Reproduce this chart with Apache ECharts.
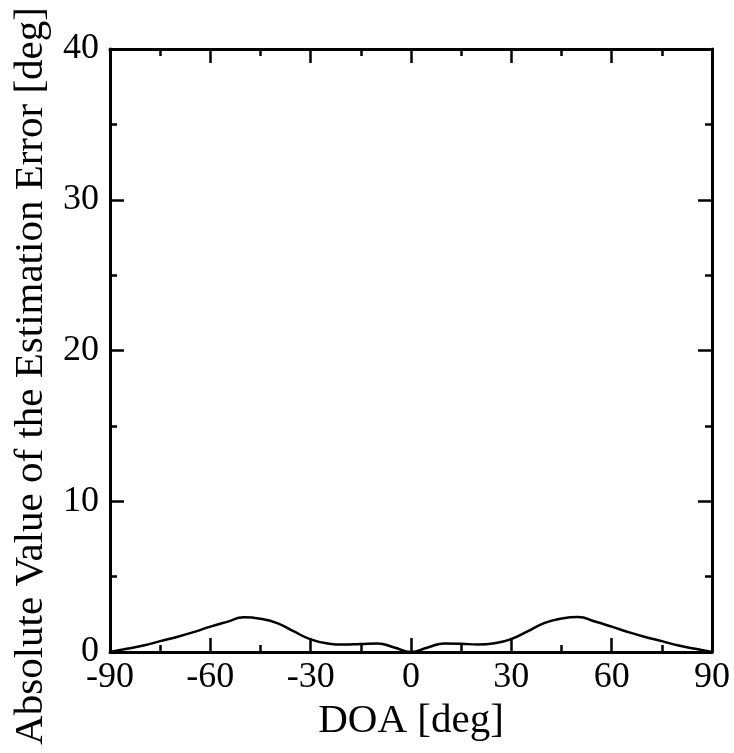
<!DOCTYPE html>
<html>
<head>
<meta charset="utf-8">
<script src="https://cdn.jsdelivr.net/npm/echarts@6/dist/echarts.min.js"></script>
<style>
html,body{margin:0;padding:0;background:#fff;}
#chart{width:734px;height:753px;}
</style>
</head>
<body>
<div id="chart"></div>
<script>
// DOA angles (deg)
const doa = [-90,-85,-80,-75,-70,-65,-60,-55,-50,-45,-40,-35,-30,-25,-20,-15,-10,-5,0,
             5,10,15,20,25,30,35,40,45,50,55,60,65,70,75,80,85,90];
// Absolute value of the estimation error (deg)
const absError = [0,0.22,0.43,0.72,1.0,1.32,1.68,2.0,2.31,2.21,1.92,1.36,0.84,0.57,0.49,0.53,0.57,0.3,0,
                  0.3,0.57,0.55,0.5,0.58,0.86,1.38,1.93,2.22,2.32,2.02,1.68,1.32,1.0,0.72,0.43,0.22,0];
const xTicks = [-90,-60,-30,0,30,60,90];
const yTicks = [0,10,20,30,40];
const xTitle = 'DOA [deg]';
const yTitle = 'Absolute Value of the Estimation Error [deg]';

const font = 'Liberation Serif';
const axisLineStyle = {color:'#000', width:3};
const tickStyle = {color:'#000', width:2.5};

const chart = echarts.init(document.getElementById('chart'), null, {renderer:'canvas'});
const baseX = {
  type:'value', min:-90, max:90, interval:30,
  axisLine:{show:true, onZero:false, lineStyle:axisLineStyle},
  axisTick:{show:true, inside:true, length:14, lineStyle:tickStyle},
  minorTick:{show:true, splitNumber:2, length:7, lineStyle:tickStyle},
  splitLine:{show:false}, minorSplitLine:{show:false}
};
const baseY = {
  type:'value', min:0, max:40, interval:10,
  axisLine:{show:true, onZero:false, lineStyle:axisLineStyle},
  axisTick:{show:true, inside:true, length:14, lineStyle:tickStyle},
  minorTick:{show:true, splitNumber:2, length:7, lineStyle:tickStyle},
  splitLine:{show:false}, minorSplitLine:{show:false}
};
chart.setOption({
  animation:false,
  backgroundColor:'#fff',
  grid:{left:110, right:22, top:49, bottom:101, containLabel:false, outerBoundsMode:'none'},
  xAxis:[
    Object.assign({}, baseX, {
      position:'bottom',
      name:xTitle, nameLocation:'middle', nameGap:41,
      nameTextStyle:{fontFamily:font, fontSize:41, color:'#000'},
      axisLabel:{show:true, margin:8, fontFamily:font, fontSize:36, color:'#000',
        formatter:v => xTicks.includes(v) ? String(v) : ''}
    }),
    Object.assign({}, baseX, {position:'top', axisLabel:{show:false}})
  ],
  yAxis:[
    Object.assign({}, baseY, {
      position:'left',
      name:yTitle, nameLocation:'middle', nameGap:58, nameRotate:90,
      nameTextStyle:{fontFamily:font, fontSize:41, color:'#000', padding:[0,51,0,0]},
      axisLabel:{show:true, margin:11, fontFamily:font, fontSize:36, color:'#000',
        formatter:v => yTicks.includes(v) ? String(v) : ''}
    }),
    Object.assign({}, baseY, {position:'right', axisLabel:{show:false}})
  ],
  series:[{
    type:'line',
    data:doa.map((d,i)=>[d, absError[i]]),
    smooth:0.5,
    showSymbol:false,
    lineStyle:{color:'#000', width:2.5},
    clip:true
  }]
});
</script>
</body>
</html>
